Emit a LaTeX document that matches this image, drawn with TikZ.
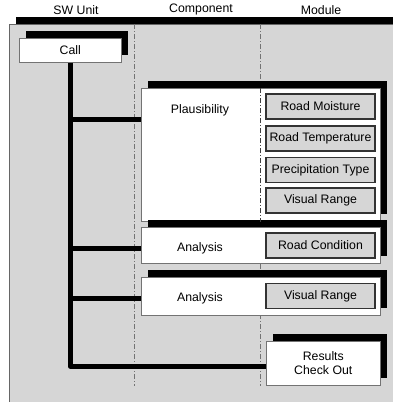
\documentclass[tikz,border=0pt]{standalone}
\usepackage{fontspec}
\setmainfont{Liberation Sans}
\usetikzlibrary{shadows, positioning, calc}

\begin{document}
\begin{tikzpicture}[
    x=1pt, y=-1pt,
    font=\fontsize{12.3}{14.5}\selectfont,
    shadowed/.style={general shadow={shadow xshift=7pt, shadow yshift=7pt, fill=black}},
    frame/.style={rectangle, draw=black!60, fill=black!16, line width=0.8pt, anchor=north west, inner sep=0pt},
    block/.style={rectangle, draw=black!55, fill=white, line width=0.6pt, shadowed, anchor=north west, inner sep=0pt},
    module/.style={rectangle, draw=black!80, fill=black!16, line width=1.4pt, minimum width=109pt, minimum height=25pt, inner sep=0pt},
    divider/.style={black!55, line width=0.9pt, dash pattern=on 5pt off 2pt on 1pt off 2pt},
    conn/.style={line width=5pt, line join=round}
]
\useasboundingbox (0,0) rectangle (392,402);

% Frame and column headings
\node[frame, shadowed, minimum width=400pt, minimum height=400pt] (frame) at (9,24) {};
\node (hunit) at (76,10) {SW Unit};
\node (hcomp) at (201,9) {Component};
\node (hmod) at (321,10) {Module};

% Column dividers
\coordinate (div1top) at (134,24);
\coordinate (div1bot) at (134,386);
\coordinate (div2top) at (260,24);
\coordinate (div2bot) at (260,386);
\draw[divider] (div1top) -- (div1bot);
\draw[divider] (div2top) -- (div2bot);

% Boxes
\node[block, minimum width=102pt, minimum height=24pt] (call) at (19,38) {};
\node (calltxt) at (call.center) {Call};
\node[block, minimum width=239pt, minimum height=133pt] (plaus) at (141,88) {};
\node[block, minimum width=239pt, minimum height=36pt] (ana1) at (141,227) {};
\node[block, minimum width=239pt, minimum height=38pt] (ana2) at (141,277) {};
\node[block, minimum width=114pt, minimum height=44pt, align=center] (results) at (266,341) {Results\\Check Out};
\draw[divider, black!75] (div2top |- plaus.north) -- (div2top |- plaus.south);

% Component labels
\node (plaustxt) at (200,110) {Plausibility};
\node (ana1txt) at (200,248) {Analysis};
\node (ana2txt) at (200,298) {Analysis};

% Modules
\node[module] (moist) at (320.5,106.5) {Road Moisture};
\node[module] (temp) at (320.5,138.5) {Road Temperature};
\node[module] (precip) at (320.5,170) {Precipitation Type};
\node[module] (vis1) at (320.5,200.5) {Visual Range};
\node[module] (cond) at (320.5,245.5) {Road Condition};
\node[module] (vis2) at (320.5,296) {Visual Range};

% Calls
\draw[conn] (call.south) |- ([yshift=-3pt]results.west);
\draw[conn] (call.south |- plaustxt.south) -- (plaus.west |- plaustxt.south);
\draw[conn] (call.south |- ana1txt) -- (ana1.west |- ana1txt);
\draw[conn] (call.south |- ana2txt) -- (ana2.west |- ana2txt);

\end{tikzpicture}
\end{document}
